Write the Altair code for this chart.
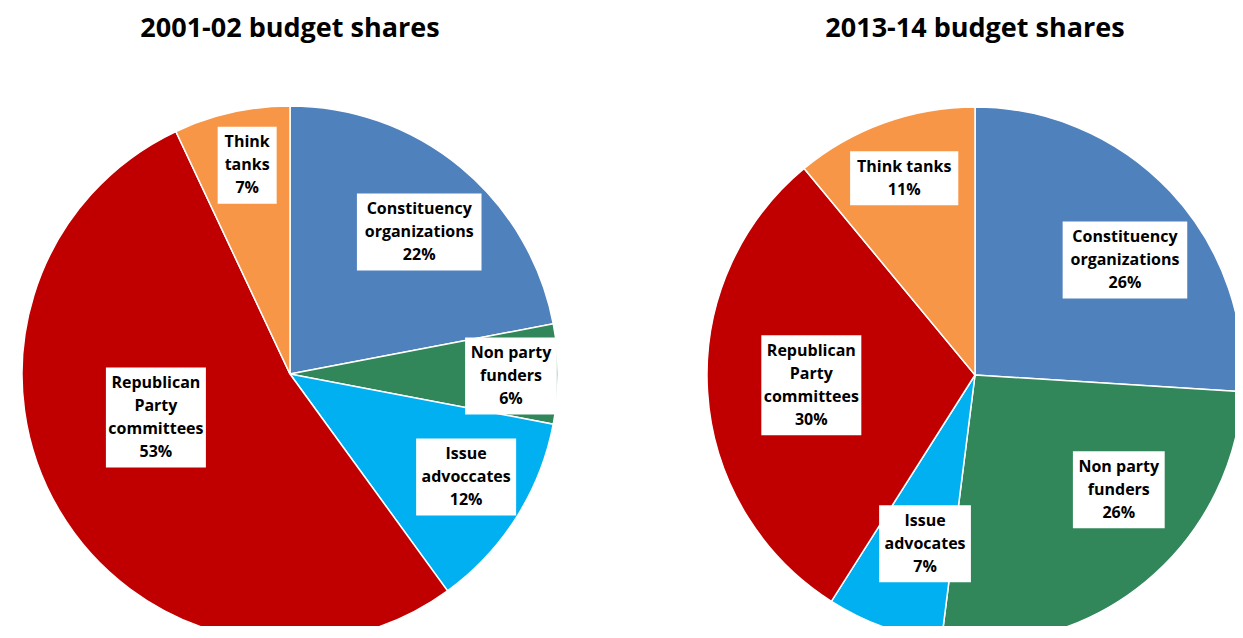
import altair as alt
import pandas as pd

# ---- data ----
YEARS = ["2001-02", "2013-14"]
TITLES = ["2001-02 budget shares", "2013-14 budget shares"]
CATEGORIES = [
    "Constituency organizations",
    "Non party funders",
    "Issue advocates",
    "Republican Party committees",
    "Think tanks",
]
SHARES_2001 = [22, 6, 12, 53, 7]
SHARES_2013 = [26, 26, 7, 30, 11]
LABELS_2001 = ["Constituency\norganizations", "Non party\nfunders", "Issue\nadvoccates",
               "Republican\nParty\ncommittees", "Think\ntanks"]
LABELS_2013 = ["Constituency\norganizations", "Non party\nfunders", "Issue\nadvocates",
               "Republican\nParty\ncommittees", "Think tanks"]
COLORS = ["#4F81BD", "#31875A", "#00B0F0", "#C00000", "#F79646"]

# ---- layout ----
W, H = 1227, 618
R = 268
CENTERS = {"2001-02": (282, 366), "2013-14": (967, 367)}
# label placement (distance from centre in px, angular nudge from slice middle in degrees)
LABEL_RADIUS = {"2001-02": [192, 221, 204, 141, 213],
                "2013-14": [189, 184, 176, 164, 209]}
LABEL_NUDGE = {"2001-02": [2.7, 0.5, -2.1, 12.6, 1.0],
               "2013-14": [5.7, -11.8, -3.3, 0.0, 0.0]}
FONT = "Open Sans"
LINE_H = 23

rows = []
for year, title, shares, labels in [(YEARS[0], TITLES[0], SHARES_2001, LABELS_2001),
                                    (YEARS[1], TITLES[1], SHARES_2013, LABELS_2013)]:
    for i, (cat, v, lab) in enumerate(zip(CATEGORIES, shares, labels)):
        lines = lab.split("\n") + [f"{v}%"]
        rows.append({
            "year": year, "title": title, "category": cat, "order": i, "value": v,
            "text": "\n".join(lines),
            "nlines": len(lines),
            "bw": 8.2 * max(len(s) for s in lines) + 18,
            "bh": LINE_H * len(lines) + 8,
            "lr": LABEL_RADIUS[year][i],
            "nudge": LABEL_NUDGE[year][i],
        })
df = pd.DataFrame(rows)

color = alt.Color("category:N", scale=alt.Scale(domain=CATEGORIES, range=COLORS), legend=None)


def panel(year):
    cx, cy = CENTERS[year]
    base = alt.Chart(df).transform_filter(alt.datum.year == year)
    pie = base.mark_arc(radius=R, stroke="white", strokeWidth=1.5).encode(
        theta=alt.Theta("value:Q", stack=True),
        order=alt.Order("order:Q"),
        color=color,
        x=alt.value(cx),
        y=alt.value(cy),
    )
    pos = base.transform_window(
        cum="sum(value)", sort=[alt.SortField("order")], frame=[None, 0]
    ).transform_joinaggregate(total="sum(value)").transform_calculate(
        mid="(datum.cum - datum.value / 2) / datum.total * 2 * PI + datum.nudge * PI / 180",
        lx=f"{cx} + datum.lr * sin(datum.mid)",
        ly=f"{cy} - datum.lr * cos(datum.mid)",
        ty=f"datum.ly - (datum.nlines - 1) * {LINE_H} / 2",
        bx1="datum.lx - datum.bw / 2",
        bx2="datum.lx + datum.bw / 2",
        by1="datum.ly - datum.bh / 2",
        by2="datum.ly + datum.bh / 2",
    )
    boxes = pos.mark_rect(color="white").encode(
        x=alt.X("bx1:Q", scale=None, axis=None),
        x2="bx2:Q",
        y=alt.Y("by1:Q", scale=None, axis=None),
        y2="by2:Q",
    )
    texts = pos.mark_text(
        font=FONT, fontWeight="bold", fontSize=16, lineBreak="\n", lineHeight=LINE_H,
        align="center", baseline="middle", color="black",
    ).encode(
        x=alt.X("lx:Q", scale=None, axis=None),
        y=alt.Y("ty:Q", scale=None, axis=None),
        text="text:N",
    )
    title = base.transform_filter(alt.datum.order == 0).mark_text(
        font=FONT, fontWeight="bold", fontSize=27, align="center", baseline="alphabetic",
        color="black",
    ).encode(x=alt.value(cx), y=alt.value(29), text="title:N")
    return [pie, boxes, texts, title]


chart = alt.layer(*panel(YEARS[0]), *panel(YEARS[1])).resolve_scale(theta="independent").properties(
    width=W, height=H, padding=0, autosize="none"
).configure_view(stroke=None)

chart.save("out.html", embed_options={"renderer": "svg", "actions": False})
